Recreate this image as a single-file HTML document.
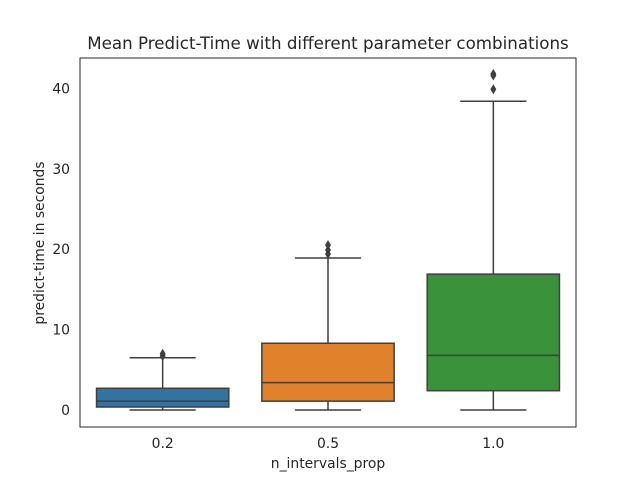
<!DOCTYPE html>
<html><head><meta charset="utf-8"><style>body{margin:0;background:#fff}svg{display:block}text{font-family:"DejaVu Sans","Liberation Sans",sans-serif;fill:#262626}</style></head>
<body>
<svg id="chart" width="640" height="480"></svg>
<script>
const categories = ["0.2","0.5","1.0"];
const q1s = [0.37, 1.1, 2.4];
const medians = [1.1, 3.4, 6.8];
const q3s = [2.7, 8.3, 16.9];
const whiskLow = [0, 0, 0];
const whiskHigh = [6.5, 18.9, 38.4];
const outliers = [[6.7, 7.0], [19.4, 19.9, 20.5], [39.9, 41.6, 41.8]];
const colors = ["#3274a1","#e1812c","#3a923a"];
const yTicks = [0,10,20,30,40];

const L=80,R=576,T=58,B=427;
const y = v => 410 - v*8.04;
const x = i => L + (i+0.5)*(R-L)/categories.length;
const bw = (R-L)/categories.length*0.8;
const svg = document.getElementById('chart');
const NS='http://www.w3.org/2000/svg';
function mk(tag, attrs, parent){const e=document.createElementNS(NS,tag);for(const k in attrs)e.setAttribute(k,attrs[k]);(parent||svg).appendChild(e);return e;}
const lc="#3f3f3f";
categories.forEach((c,i)=>{
  const g=mk('g',{});
  
  
  const cx=x(i);
  mk('line',{x1:cx,x2:cx,y1:y(q1s[i]),y2:y(whiskLow[i]),stroke:lc,'stroke-width':1.5},g);
  mk('line',{x1:cx,x2:cx,y1:y(q3s[i]),y2:y(whiskHigh[i]),stroke:lc,'stroke-width':1.5},g);
  mk('line',{x1:cx-bw/4,x2:cx+bw/4,y1:y(whiskLow[i]),y2:y(whiskLow[i]),stroke:lc,'stroke-width':1.5},g);
  mk('line',{x1:cx-bw/4,x2:cx+bw/4,y1:y(whiskHigh[i]),y2:y(whiskHigh[i]),stroke:lc,'stroke-width':1.5},g);
  mk('rect',{x:cx-bw/2,y:y(q3s[i]),width:bw,height:y(q1s[i])-y(q3s[i]),fill:colors[i],stroke:lc,'stroke-width':1.5},g);
  mk('line',{x1:cx-bw/2,x2:cx+bw/2,y1:y(medians[i]),y2:y(medians[i]),stroke:lc,'stroke-width':1.5},g);
  outliers[i].forEach(v=>{
    const d=mk('path',{d:`M${cx},${y(v)-5} L${cx+3},${y(v)} L${cx},${y(v)+5} L${cx-3},${y(v)} Z`,fill:lc},g);
    
    
  });
  const t=mk('text',{x:cx,y:448,'text-anchor':'middle','font-size':13.9});
  t.textContent=c;
  
  
});
yTicks.forEach(v=>{
  const t=mk('text',{x:70,y:y(v)+5,'text-anchor':'end','font-size':13.9});
  t.textContent=v;
  
  
});
const fr=mk('rect',{x:L,y:T,width:R-L,height:B-T,fill:'none',stroke:'#262626','stroke-width':1});


</script>
<div style="position:absolute;left:0;top:0;width:640px;height:480px;pointer-events:none">
<svg width="640" height="480">
<text x="328" y="49" text-anchor="middle" font-size="16.7">Mean Predict-Time with different parameter combinations</text>
<text x="328" y="468" text-anchor="middle" font-size="13.9">n_intervals_prop</text>
<text x="44" y="243" text-anchor="middle" font-size="13.9" transform="rotate(-90 44 243)">predict-time in seconds</text>
</svg></div>
</body></html>
